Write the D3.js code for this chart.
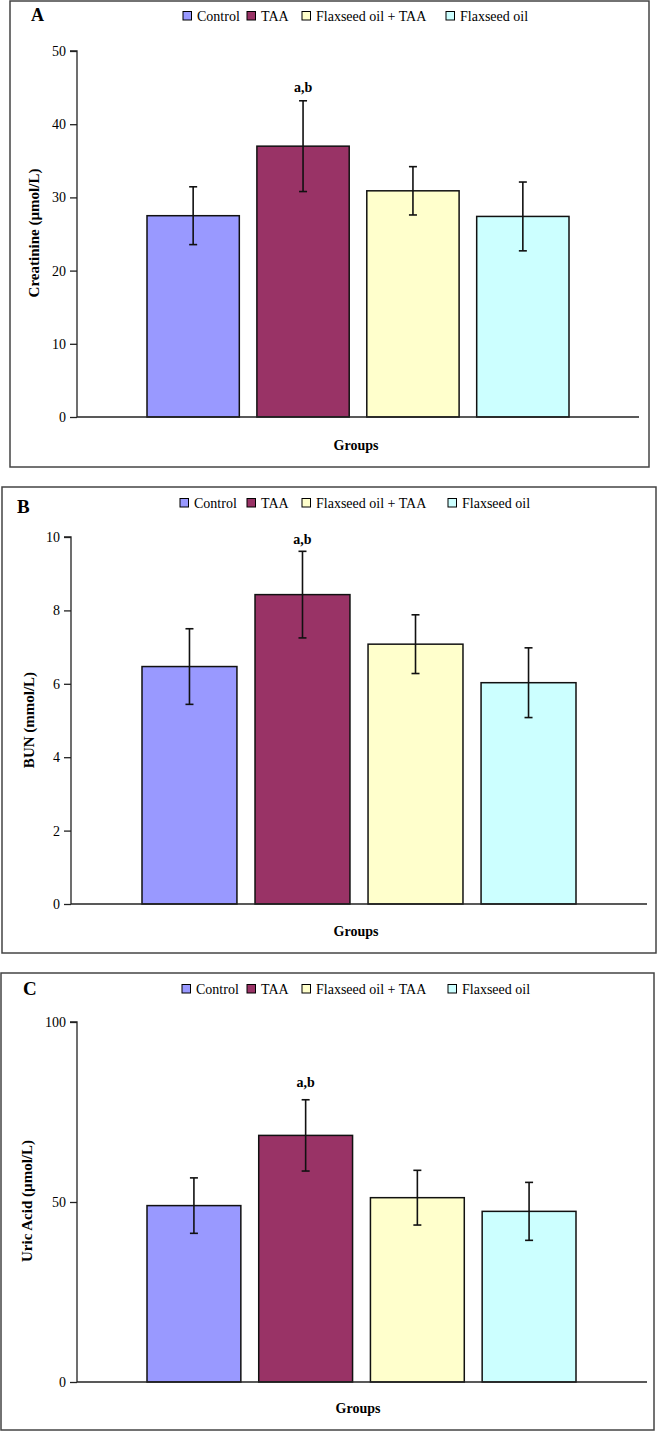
<!DOCTYPE html>
<html>
<head>
<meta charset="utf-8">
<script src="https://cdn.jsdelivr.net/npm/d3@7"></script>
<style>
  html, body { margin: 0; padding: 0; background: #fff; }
  svg { display: block; }
  text { font-family: "Liberation Serif", "Times New Roman", serif; fill: #000; }
</style>
</head>
<body>
<svg id="chart" width="657" height="1431"></svg>
<script>
// ---------- data ----------
const groups = ["Control", "TAA", "Flaxseed oil + TAA", "Flaxseed oil"];
const groupColors = ["#9999FF", "#993366", "#FFFFCC", "#CCFFFF"];

const creatinine = [27.5, 37.0, 30.9, 27.4];
const creatinineErr = [3.95, 6.2, 3.3, 4.7];
const creatinineTicks = [0, 10, 20, 30, 40, 50];

const bun = [6.47, 8.43, 7.08, 6.03];
const bunErr = [1.03, 1.18, 0.8, 0.95];
const bunTicks = [0, 2, 4, 6, 8, 10];

const uricAcid = [49.0, 68.5, 51.2, 47.4];
const uricAcidErr = [7.7, 9.9, 7.6, 8.05];
const uricAcidTicks = [0, 50, 100];

const sigLabels = ["", "a,b", "", ""];
const panelLetters = ["A", "B", "C"];
const yTitles = ["Creatinine (\u00b5mol/L)", "BUN (mmol/L)", "Uric Acid (\u00b5mol/L)"];
const xTitle = "Groups";

// ---------- layout ----------
const panels = [
  { letter: panelLetters[0], values: creatinine, errs: creatinineErr, ticks: creatinineTicks, yMax: 50, title: yTitles[0],
    box: [10, 1, 649, 467], axisX: 77, y0: 417, yTop: 51, axisEnd: 639, bars: [147, 569],
    letterPos: [31, 21, 18], legendY: 16, legendX: [183, 247, 302, 446], sigOff: 14,
    titleX: 34, titleY: 233, groupsPos: [356, 450] },
  { letter: panelLetters[1], values: bun, errs: bunErr, ticks: bunTicks, yMax: 10, title: yTitles[1],
    box: [2, 487, 656, 953], axisX: 71, y0: 904, yTop: 537, axisEnd: 647, bars: [142, 576],
    letterPos: [17, 513, 19], legendY: 503, legendX: [180, 247, 302, 448], sigOff: 12,
    titleX: 29, titleY: 720, groupsPos: [356, 936] },
  { letter: panelLetters[2], values: uricAcid, errs: uricAcidErr, ticks: uricAcidTicks, yMax: 100, title: yTitles[2],
    box: [1, 973, 654, 1430], axisX: 77, y0: 1382, yTop: 1022, axisEnd: 647, bars: [147, 576],
    letterPos: [23, 995, 19], legendY: 989, legendX: [182, 247, 302, 448], sigOff: 18,
    titleX: 27, titleY: 1201, groupsPos: [358, 1413] }
];

const svg = d3.select("#chart");

panels.forEach(p => {
  const g = svg.append("g");

  // panel frame
  g.append("rect")
    .attr("x", p.box[0]).attr("y", p.box[1])
    .attr("width", p.box[2] - p.box[0]).attr("height", p.box[3] - p.box[1])
    .attr("fill", "none").attr("stroke", "#444").attr("stroke-width", 1.5);

  // panel letter
  g.append("text")
    .attr("x", p.letterPos[0]).attr("y", p.letterPos[1])
    .attr("font-size", p.letterPos[2]).attr("font-weight", "bold")
    .text(p.letter);

  // legend
  const leg = g.selectAll(".leg").data(groups).enter().append("g")
    .attr("transform", (d, i) => `translate(${p.legendX[i]},${p.legendY})`);
  leg.append("rect")
    .attr("x", 0).attr("y", -4.5).attr("width", 8.5).attr("height", 8.5)
    .attr("fill", (d, i) => groupColors[i]).attr("stroke", "#000").attr("stroke-width", 1);
  leg.append("text")
    .attr("x", 14).attr("y", 0).attr("dy", "0.35em")
    .attr("font-size", 14)
    .text(d => d);

  // scales
  const x = d3.scaleBand().domain(groups).range(p.bars).paddingInner(0.16).paddingOuter(0);
  const y = d3.scaleLinear().domain([0, p.yMax]).range([p.y0, p.yTop]);

  // y axis
  const yAxis = d3.axisLeft(y).tickValues(p.ticks).tickSize(7).tickPadding(4).tickFormat(d3.format("d"));
  const ya = g.append("g").attr("transform", `translate(${p.axisX},0)`).call(yAxis);
  ya.select(".domain").attr("stroke", "#222").attr("stroke-width", 1.3).attr("d", `M-7,${p.yTop}H0V${p.y0}`);
  ya.selectAll(".tick line").attr("stroke", "#222").attr("stroke-width", 1.3);
  ya.selectAll(".tick text")
    .attr("font-family", "'Liberation Serif', 'Times New Roman', serif")
    .attr("font-size", 14).attr("fill", "#000");

  // bars
  g.selectAll(".bar").data(p.values).enter().append("rect")
    .attr("x", (d, i) => x(groups[i]))
    .attr("y", d => y(d))
    .attr("width", x.bandwidth())
    .attr("height", d => p.y0 - y(d))
    .attr("fill", (d, i) => groupColors[i])
    .attr("stroke", "#111").attr("stroke-width", 1.5);

  // x axis line
  g.append("line")
    .attr("x1", p.axisX).attr("x2", p.axisEnd)
    .attr("y1", p.y0).attr("y2", p.y0)
    .attr("stroke", "#222").attr("stroke-width", 1.3);

  // error bars
  const cap = 4;
  p.values.forEach((v, i) => {
    const cx = x(groups[i]) + x.bandwidth() / 2;
    const hi = y(v + p.errs[i]), lo = y(v - p.errs[i]);
    g.append("line").attr("x1", cx).attr("x2", cx).attr("y1", hi).attr("y2", lo)
      .attr("stroke", "#111").attr("stroke-width", 1.6);
    [hi, lo].forEach(yy => g.append("line")
      .attr("x1", cx - cap).attr("x2", cx + cap).attr("y1", yy).attr("y2", yy)
      .attr("stroke", "#111").attr("stroke-width", 1.6));
    if (sigLabels[i]) {
      g.append("text")
        .attr("x", cx).attr("y", hi - p.sigOff).attr("dy", "0.35em")
        .attr("text-anchor", "middle")
        .attr("font-size", 14).attr("font-weight", "bold")
        .text(sigLabels[i]);
    }
  });

  // y title
  g.append("text")
    .attr("transform", `translate(${p.titleX},${p.titleY}) rotate(-90)`)
    .attr("text-anchor", "middle").attr("dy", "0.35em")
    .attr("font-size", 15).attr("font-weight", "bold")
    .text(p.title);

  // x title
  g.append("text")
    .attr("x", p.groupsPos[0]).attr("y", p.groupsPos[1])
    .attr("text-anchor", "middle")
    .attr("font-size", 14).attr("font-weight", "bold")
    .text(xTitle);
});
</script>
</body>
</html>
